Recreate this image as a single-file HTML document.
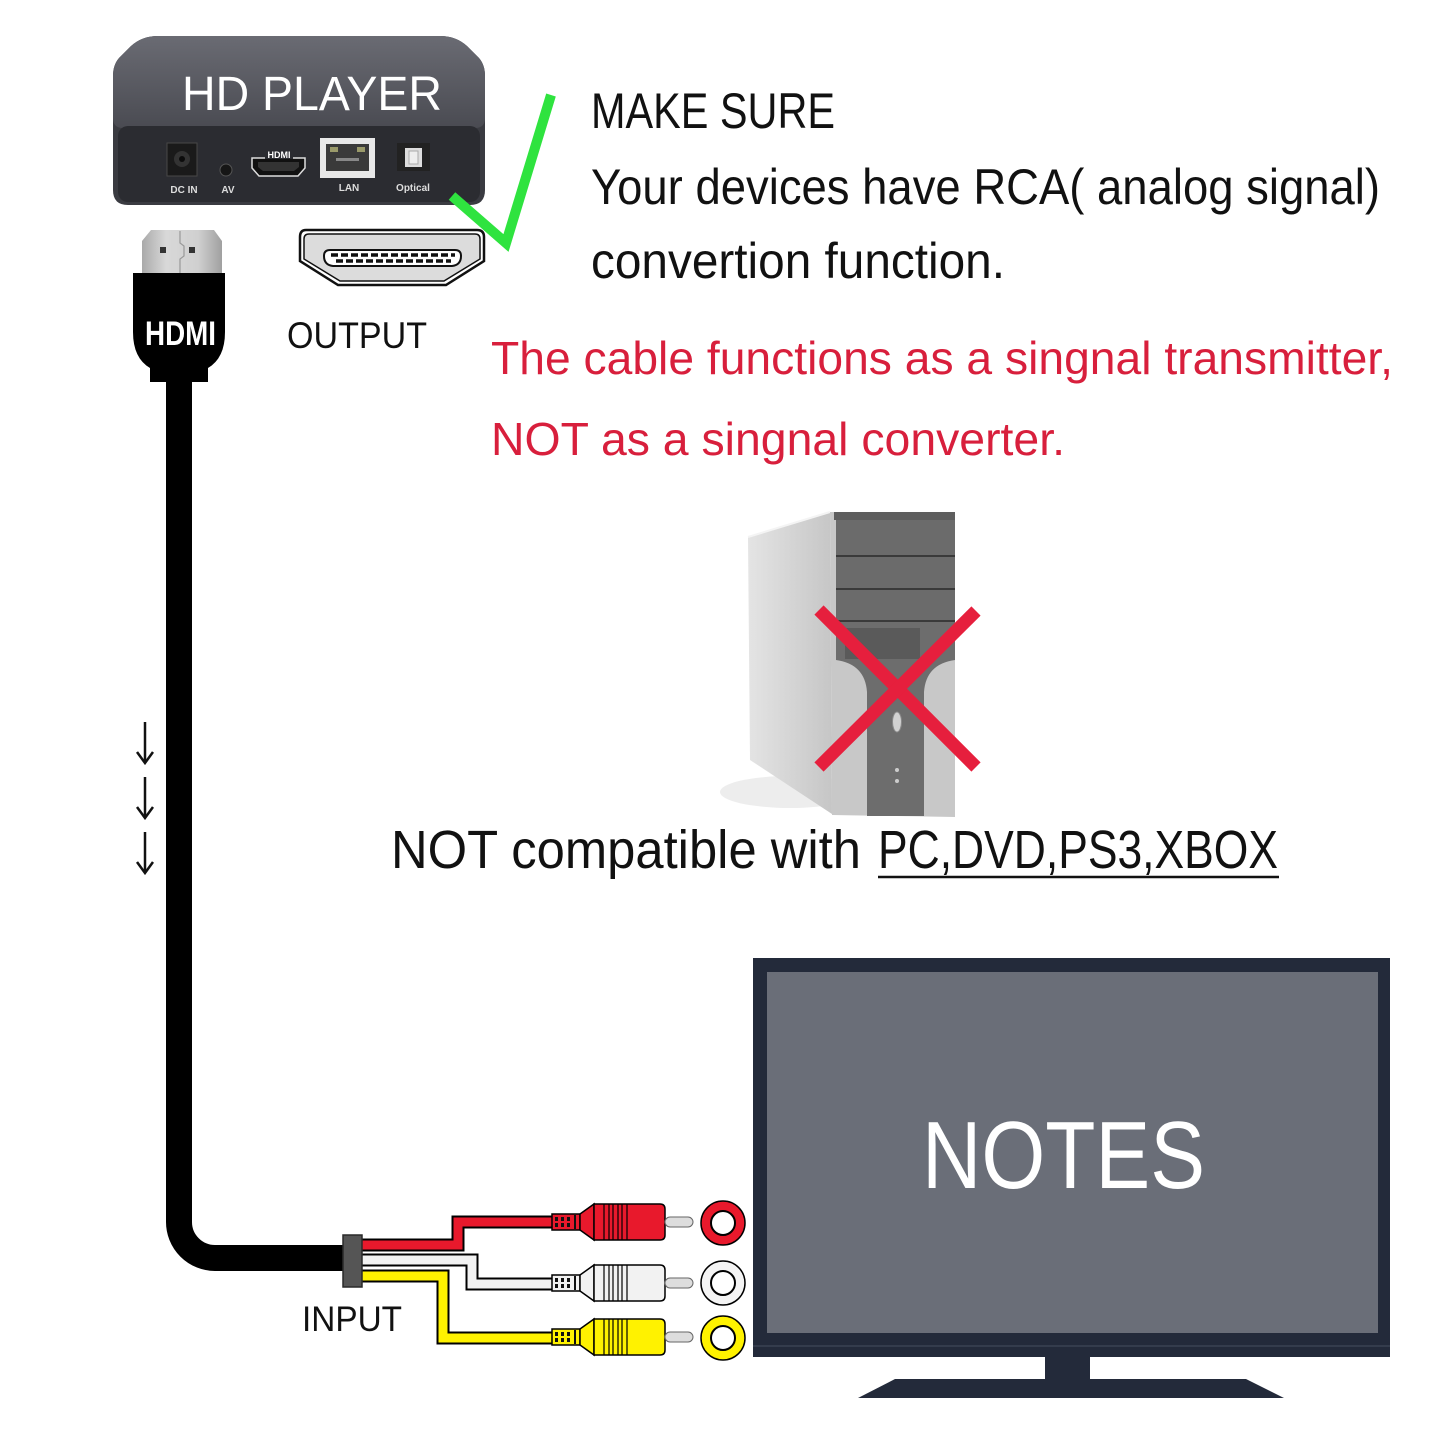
<!DOCTYPE html>
<html><head><meta charset="utf-8"><style>
html,body{margin:0;padding:0;background:#fff;}
svg{display:block;}
text{font-family:"Liberation Sans",sans-serif;}
</style></head><body>
<svg width="1445" height="1445" viewBox="0 0 1445 1445" xmlns="http://www.w3.org/2000/svg">
<defs>
<linearGradient id="lid" x1="0" y1="0" x2="0" y2="1"><stop offset="0" stop-color="#6a6b73"/><stop offset="1" stop-color="#4a4b52"/></linearGradient>
<linearGradient id="side" x1="0" y1="0" x2="1" y2="0"><stop offset="0" stop-color="#e4e4e4"/><stop offset="1" stop-color="#c6c6c6"/></linearGradient>
<linearGradient id="metal" x1="0" y1="0" x2="1" y2="0"><stop offset="0" stop-color="#a9a9a9"/><stop offset="0.3" stop-color="#d8d8d8"/><stop offset="0.7" stop-color="#d0d0d0"/><stop offset="1" stop-color="#a0a0a0"/></linearGradient>
</defs>
<rect width="1445" height="1445" fill="#fff"/>

<!-- HD PLAYER box -->
<path d="M170,36 L440,36 Q456,36 467,46 L479,58 Q485,65 485,76 L485,190 Q485,205 470,205 L128,205 Q113,205 113,190 L113,76 Q113,65 119,58 L131,46 Q142,36 158,36 Z" fill="#3a3b41"/>
<path d="M170,36 L440,36 Q456,36 467,46 L479,58 Q485,65 485,76 L485,118 Q485,128 475,128 L123,128 Q113,128 113,118 L113,76 Q113,65 119,58 L131,46 Q142,36 158,36 Z" fill="url(#lid)"/>
<rect x="118" y="126" width="362" height="76" rx="10" fill="#2b2c31"/>
<text x="182" y="110" font-size="48" fill="#fff" textLength="260" lengthAdjust="spacingAndGlyphs">HD PLAYER</text>
<!-- ports -->
<rect x="167" y="143" width="30" height="33" fill="#1a1a1a" stroke="#484848"/>
<circle cx="182" cy="159" r="8" fill="#333"/><circle cx="182" cy="159" r="3" fill="#0c0c0c"/>
<circle cx="226" cy="170" r="6" fill="#161616" stroke="#555"/>
<path d="M252,158 L305,158 L305,168 L298,176 L259,176 L252,168 Z" fill="#111" stroke="#ddd" stroke-width="1.5"/>
<path d="M258,162 L299,162 L299,167 L294,171 L263,171 L258,167 Z" fill="#333"/>
<rect x="265" y="150" width="28" height="9" fill="#2b2c31"/>
<text x="279" y="158" font-size="9" font-weight="bold" fill="#fff" text-anchor="middle">HDMI</text>
<rect x="320" y="138" width="55" height="40" fill="#e8e8e8"/>
<rect x="326" y="144" width="43" height="27" fill="#3a3a3a"/>
<rect x="330" y="147" width="8" height="5" fill="#9a9a6a"/><rect x="357" y="147" width="8" height="5" fill="#9a9a6a"/>
<rect x="336" y="158" width="23" height="3" fill="#888"/>
<rect x="397" y="143" width="33" height="28" fill="#222"/>
<rect x="405" y="148" width="17" height="19" fill="#ddd"/>
<rect x="409" y="151" width="9" height="13" fill="#eee" stroke="#aaa"/>
<g font-size="10" font-weight="bold" fill="#ddd" text-anchor="middle">
<text x="184" y="193">DC IN</text><text x="228" y="193">AV</text><text x="349" y="191">LAN</text><text x="413" y="191">Optical</text>
</g>

<!-- green check -->
<polyline points="452,196 506,243 551,95" fill="none" stroke="#2fe33f" stroke-width="10" stroke-linejoin="miter"/>

<!-- HDMI plug -->
<path d="M151,230 L214,230 L222,241 L222,274 L142,274 L142,241 Z" fill="url(#metal)"/>
<path d="M180,231 L180,243 L184,246 L184,256 L180,259 L180,273" fill="none" stroke="#999" stroke-width="1.2"/>
<rect x="160" y="247" width="6" height="6" fill="#333"/><rect x="189" y="247" width="6" height="6" fill="#333"/>
<path d="M133,273 L225,273 L225,332 Q225,358 208,368 L208,382 L150,382 L150,368 Q133,358 133,332 Z" fill="#000"/>
<text x="145" y="345" font-size="34" font-weight="bold" fill="#fff" textLength="71" lengthAdjust="spacingAndGlyphs">HDMI</text>
<!-- cable -->
<path d="M179,378 L179,1222 A36,36 0 0 0 215,1258 L346,1258" fill="none" stroke="#000" stroke-width="26"/>

<!-- output port -->
<path d="M306,230 L477,230 Q484,230 484,237 L484,261 L446,285 L338,285 L300,261 L300,237 Q300,230 306,230 Z" fill="#fff" stroke="#111" stroke-width="2.5"/>
<path d="M309,234 L475,234 Q480,234 480,239 L480,259 L444,281 L340,281 L304,259 L304,239 Q304,234 309,234 Z" fill="#dcdcdc" stroke="#111" stroke-width="1.5"/>
<path d="M330,250 L455,250 Q461,250 461,256 Q461,265 452,266 L333,266 Q324,265 324,256 Q324,250 330,250 Z" fill="#fff" stroke="#111" stroke-width="2"/>
<line x1="331" y1="255" x2="455" y2="255" stroke="#111" stroke-width="3.5" stroke-dasharray="7,3"/>
<line x1="336" y1="261" x2="451" y2="261" stroke="#111" stroke-width="3.5" stroke-dasharray="7,3"/>
<text x="287" y="348" font-size="37" fill="#111" textLength="140" lengthAdjust="spacingAndGlyphs">OUTPUT</text>

<!-- right text -->
<g fill="#111" font-size="50">
<text x="591" y="128" textLength="244" lengthAdjust="spacingAndGlyphs">MAKE SURE</text>
<text x="591" y="204" textLength="789" lengthAdjust="spacingAndGlyphs">Your devices have RCA( analog signal)</text>
<text x="591" y="278" textLength="414" lengthAdjust="spacingAndGlyphs">convertion function.</text>
</g>
<g fill="#d81f3c" font-size="46">
<text x="491" y="374" textLength="902" lengthAdjust="spacingAndGlyphs">The cable functions as a singnal transmitter,</text>
<text x="491" y="455" textLength="574" lengthAdjust="spacingAndGlyphs">NOT as a singnal converter.</text>
</g>

<!-- PC tower -->
<ellipse cx="790" cy="792" rx="70" ry="16" fill="#ededed"/>
<polygon points="748,537 830,512 832,814 750,760" fill="url(#side)"/>
<line x1="748" y1="537" x2="830" y2="512" stroke="#f4f4f4" stroke-width="2"/>
<path d="M830,512 L946,512 Q955,513 955,522 L955,817 L832,815 Z" fill="#c8c8c8"/>
<rect x="834" y="512" width="121" height="8" fill="#5e5e5e"/>
<rect x="836" y="520" width="119" height="35" fill="#6b6b6b"/>
<rect x="836" y="557" width="119" height="31" fill="#6b6b6b"/>
<rect x="836" y="590" width="119" height="31" fill="#6b6b6b"/>
<line x1="836" y1="556" x2="955" y2="556" stroke="#3a3a3a" stroke-width="2"/>
<line x1="836" y1="589" x2="955" y2="589" stroke="#3a3a3a" stroke-width="2"/>
<line x1="836" y1="621" x2="955" y2="621" stroke="#3a3a3a" stroke-width="2"/>
<path d="M836,622 L955,622 L955,660 Q926,664 924,692 L924,816 L867,816 L867,692 Q865,664 836,660 Z" fill="#6d6d6d"/>
<rect x="845" y="628" width="75" height="31" fill="#5a5a5a"/>
<ellipse cx="897" cy="722" rx="4.5" ry="10" fill="#d2d2d2" stroke="#8a8a8a"/>
<circle cx="897" cy="770" r="2" fill="#ccc"/><circle cx="897" cy="781" r="2" fill="#ccc"/>
<!-- red X -->
<line x1="819" y1="610" x2="976" y2="767" stroke="#e61f3d" stroke-width="13"/>
<line x1="976" y1="611" x2="819" y2="767" stroke="#e61f3d" stroke-width="13"/>

<!-- NOT compatible -->
<g fill="#111" font-size="54">
<text x="391" y="868" textLength="470" lengthAdjust="spacingAndGlyphs">NOT compatible with</text>
<text x="878" y="868" textLength="400" lengthAdjust="spacingAndGlyphs">PC,DVD,PS3,XBOX</text>
</g>
<line x1="878" y1="877" x2="1279" y2="877" stroke="#111" stroke-width="2.5"/>

<!-- arrows -->
<g stroke="#111" stroke-width="2.5" fill="none">
<path d="M145,722 V762"/><polyline points="137,752 145,763 153,752"/>
<path d="M145,777 V817"/><polyline points="137,807 145,818 153,807"/>
<path d="M145,832 V872"/><polyline points="137,862 145,873 153,862"/>
</g>

<!-- TV -->
<rect x="753" y="958" width="637" height="399" fill="#232a3a"/>
<rect x="767" y="972" width="611" height="361" fill="#6a6e78"/>
<line x1="753" y1="1346" x2="1390" y2="1346" stroke="#3a4252" stroke-width="1.5"/>
<rect x="1045" y="1357" width="45" height="22" fill="#232a3a"/>
<polygon points="895,1379 1246,1379 1284,1398 858,1398" fill="#232a3a"/>
<text x="922" y="1188" font-size="96" fill="#fff" textLength="283" lengthAdjust="spacingAndGlyphs">NOTES</text>

<!-- wires -->
<g fill="none" stroke-linejoin="miter">
<path d="M360,1245 L458,1245 L458,1222 L556,1222" stroke="#000" stroke-width="13"/>
<path d="M360,1245 L458,1245 L458,1222 L556,1222" stroke="#e8192c" stroke-width="9"/>
<path d="M360,1260 L472,1260 L472,1284 L556,1284" stroke="#000" stroke-width="13"/>
<path d="M360,1260 L472,1260 L472,1284 L556,1284" stroke="#f2f2f2" stroke-width="9"/>
<path d="M360,1276 L443,1276 L443,1338 L556,1338" stroke="#000" stroke-width="13"/>
<path d="M360,1276 L443,1276 L443,1338 L556,1338" stroke="#fff200" stroke-width="9"/>
</g>
<rect x="343" y="1235" width="19" height="52" fill="#555" stroke="#2a2a2a" stroke-width="1.5"/>

<!-- RCA plugs -->
<g id="plugR" transform="translate(0,1222)">
<rect x="552" y="-8" width="28" height="16" fill="#e8192c" stroke="#000" stroke-width="1.5"/>
<g fill="#111"><rect x="555" y="-5" width="3" height="4"/><rect x="561" y="-5" width="3" height="4"/><rect x="567" y="-5" width="3" height="4"/><rect x="555" y="1" width="3" height="4"/><rect x="561" y="1" width="3" height="4"/><rect x="567" y="1" width="3" height="4"/><rect x="574" y="-7" width="2" height="14"/></g>
<polygon points="580,-8 594,-18 594,18 580,8" fill="#e8192c" stroke="#000" stroke-width="1.5"/>
<path d="M594,-18 L660,-18 Q665,-18 665,-13 L665,13 Q665,18 660,18 L594,18 Z" fill="#e8192c" stroke="#000" stroke-width="1.5"/>
<g stroke="#000" stroke-width="1.2"><line x1="604" y1="-18" x2="604" y2="18"/><line x1="609" y1="-18" x2="609" y2="18"/><line x1="613" y1="-18" x2="613" y2="18"/><line x1="618" y1="-18" x2="618" y2="18"/><line x1="622" y1="-18" x2="622" y2="18"/><line x1="627" y1="-18" x2="627" y2="18"/></g>
<rect x="665" y="-5" width="28" height="10" rx="5" fill="#ddd" stroke="#666" stroke-width="1"/>
<circle cx="723" cy="1" r="22" fill="#e8192c" stroke="#000" stroke-width="1.5"/>
<circle cx="723" cy="1" r="12" fill="#fff" stroke="#000" stroke-width="2"/>
</g>
<g transform="translate(0,1283)">
<rect x="552" y="-8" width="28" height="16" fill="#f2f2f2" stroke="#000" stroke-width="1.5"/>
<g fill="#111"><rect x="555" y="-5" width="3" height="4"/><rect x="561" y="-5" width="3" height="4"/><rect x="567" y="-5" width="3" height="4"/><rect x="555" y="1" width="3" height="4"/><rect x="561" y="1" width="3" height="4"/><rect x="567" y="1" width="3" height="4"/><rect x="574" y="-7" width="2" height="14"/></g>
<polygon points="580,-8 594,-18 594,18 580,8" fill="#f2f2f2" stroke="#000" stroke-width="1.5"/>
<path d="M594,-18 L660,-18 Q665,-18 665,-13 L665,13 Q665,18 660,18 L594,18 Z" fill="#f2f2f2" stroke="#000" stroke-width="1.5"/>
<g stroke="#000" stroke-width="1.2"><line x1="604" y1="-18" x2="604" y2="18"/><line x1="609" y1="-18" x2="609" y2="18"/><line x1="613" y1="-18" x2="613" y2="18"/><line x1="618" y1="-18" x2="618" y2="18"/><line x1="622" y1="-18" x2="622" y2="18"/><line x1="627" y1="-18" x2="627" y2="18"/></g>
<rect x="665" y="-5" width="28" height="10" rx="5" fill="#ddd" stroke="#666" stroke-width="1"/>
<circle cx="723" cy="0" r="22" fill="#f4f4f4" stroke="#000" stroke-width="1.5"/>
<circle cx="723" cy="0" r="12" fill="#fff" stroke="#000" stroke-width="2"/>
</g>
<g transform="translate(0,1337)">
<rect x="552" y="-8" width="28" height="16" fill="#fff200" stroke="#000" stroke-width="1.5"/>
<g fill="#111"><rect x="555" y="-5" width="3" height="4"/><rect x="561" y="-5" width="3" height="4"/><rect x="567" y="-5" width="3" height="4"/><rect x="555" y="1" width="3" height="4"/><rect x="561" y="1" width="3" height="4"/><rect x="567" y="1" width="3" height="4"/><rect x="574" y="-7" width="2" height="14"/></g>
<polygon points="580,-8 594,-18 594,18 580,8" fill="#fff200" stroke="#000" stroke-width="1.5"/>
<path d="M594,-18 L660,-18 Q665,-18 665,-13 L665,13 Q665,18 660,18 L594,18 Z" fill="#fff200" stroke="#000" stroke-width="1.5"/>
<g stroke="#000" stroke-width="1.2"><line x1="604" y1="-18" x2="604" y2="18"/><line x1="609" y1="-18" x2="609" y2="18"/><line x1="613" y1="-18" x2="613" y2="18"/><line x1="618" y1="-18" x2="618" y2="18"/><line x1="622" y1="-18" x2="622" y2="18"/><line x1="627" y1="-18" x2="627" y2="18"/></g>
<rect x="665" y="-5" width="28" height="10" rx="5" fill="#ddd" stroke="#666" stroke-width="1"/>
<circle cx="723" cy="1" r="22" fill="#fff200" stroke="#000" stroke-width="1.5"/>
<circle cx="723" cy="1" r="12" fill="#fff" stroke="#000" stroke-width="2"/>
</g>

<text x="302" y="1331" font-size="35" fill="#111" textLength="100" lengthAdjust="spacingAndGlyphs">INPUT</text>
</svg>
</body></html>
